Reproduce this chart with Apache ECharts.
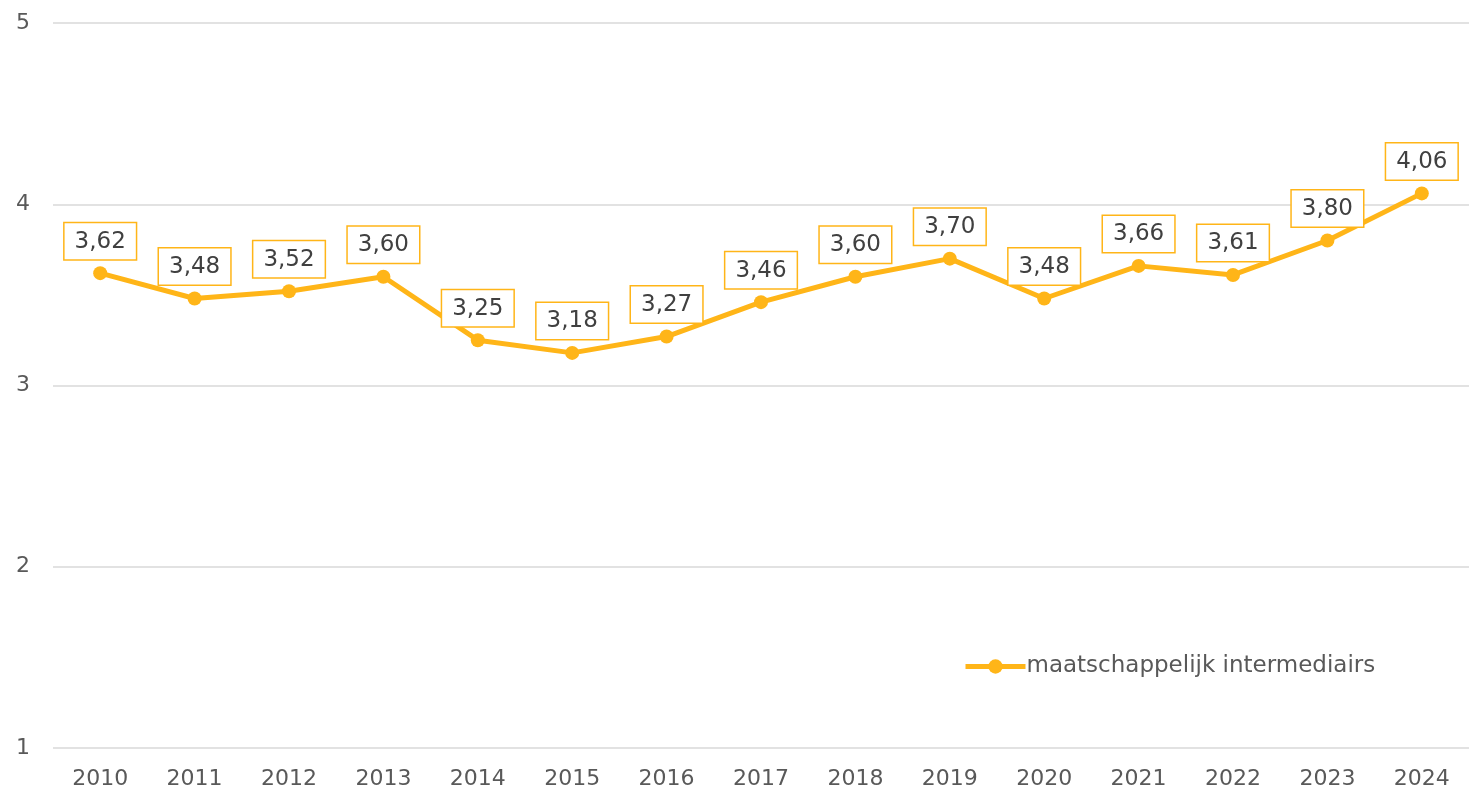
<!DOCTYPE html>
<html><head><meta charset="utf-8">
<script src="https://cdn.jsdelivr.net/npm/echarts@6/dist/echarts.min.js"></script>
<style>html,body{margin:0;padding:0;background:#fff}#c{width:1481px;height:792px}</style>
</head><body><div id="c"></div>
<script>
const categories = ['2010','2011','2012','2013','2014','2015','2016','2017','2018','2019','2020','2021','2022','2023','2024'];
const seriesName = 'maatschappelijk intermediairs';
const values = [3.62,3.48,3.52,3.60,3.25,3.18,3.27,3.46,3.60,3.70,3.48,3.66,3.61,3.80,4.06];
const yTicks = [1,2,3,4,5];

const chart = echarts.init(document.getElementById('c'));
const font = 'Verdana, "DejaVu Sans", sans-serif';
chart.setOption({
  animation: false,
  grid: {left: 53, right: 12, top: 23, bottom: 44},
  legend: {
    data: [seriesName], left: 958, top: 650, itemWidth: 60, itemHeight: 18, itemGap: 4,
    lineStyle: {width: 5},
    textStyle: {fontFamily: font, fontSize: 23, color: '#595959', padding: [0,0,0,-4]}
  },
  xAxis: {
    type: 'category', data: categories, boundaryGap: true,
    axisLine: {show: false}, axisTick: {show: false},
    axisLabel: {fontFamily: font, fontSize: 22, color: '#595959', margin: 20}
  },
  yAxis: {
    type: 'value', min: yTicks[0], max: yTicks[yTicks.length-1], interval: 1,
    axisLine: {show: false}, axisTick: {show: false},
    splitLine: {lineStyle: {color: '#d9d9d9', width: 1.5}},
    axisLabel: {fontFamily: font, fontSize: 22, color: '#595959', margin: 23, verticalAlign: 'middle', lineHeight: 22, padding: [5,0,0,0]}
  },
  series: [{
    name: seriesName, type: 'line', data: values,
    symbol: 'circle', symbolSize: 14,
    lineStyle: {color: '#FFB518', width: 5},
    itemStyle: {color: '#FFB518'},
    label: {
      show: true, position: 'top', distance: 7,
      formatter: p => p.value.toFixed(2).replace('.', ','),
      fontFamily: font, fontSize: 23, lineHeight: 25, color: '#404040',
      backgroundColor: '#fff', borderColor: '#FFB518', borderWidth: 1.5,
      padding: [6, 10, 5, 10]
    }
  }]
});
</script></body></html>
